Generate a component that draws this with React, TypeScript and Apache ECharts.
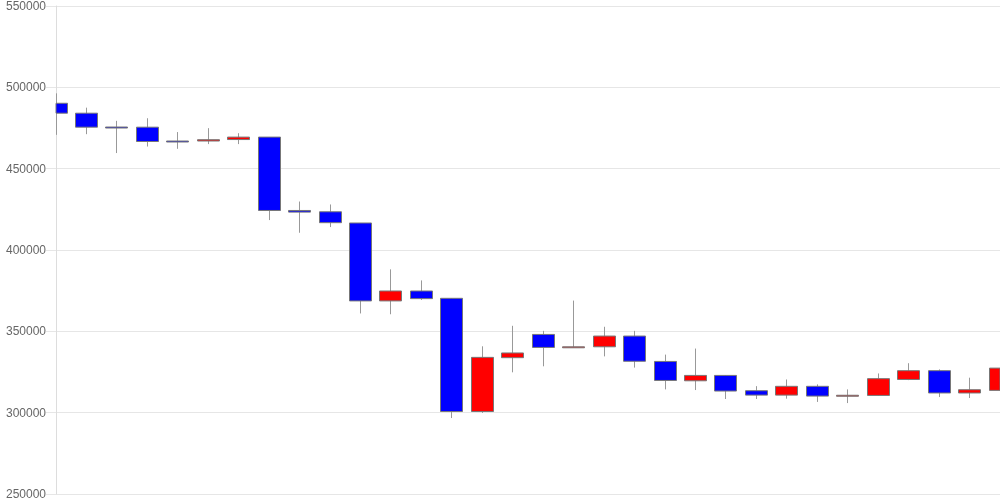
import React, { useEffect, useRef } from "react";
import * as echarts from "echarts";

const categories: string[] = [
  "D01", "D02", "D03", "D04", "D05", "D06", "D07", "D08", "D09", "D10",
  "D11", "D12", "D13", "D14", "D15", "D16", "D17", "D18", "D19", "D20",
  "D21", "D22", "D23", "D24", "D25", "D26", "D27", "D28", "D29", "D30",
  "D31", "D32",
];

const openValues: number[] = [
  490200, 484100, 475600, 475500, 467000, 467000, 467900, 469400, 424300, 423500,
  416600, 368700, 374800, 370300, 300700, 333800, 348100, 340300, 340500, 347100,
  331500, 319600, 322900, 313500, 310800, 316200, 310300, 310600, 320400, 325800,
  312100, 313700,
];
const closeValues: number[] = [
  484100, 475500, 475400, 466700, 466900, 467800, 469400, 424300, 423300, 416800,
  368700, 374800, 370100, 300700, 334000, 336700, 340100, 340500, 347100, 331600,
  319800, 322900, 313300, 310800, 316200, 310200, 310700, 320900, 325800, 312100,
  314100, 327400,
];
const lowValues: number[] = [
  470800, 471200, 459600, 463600, 462200, 465100, 465100, 418400, 410600, 414100,
  361000, 360500, 369300, 296700, 299800, 324800, 328500, 340300, 334600, 327700,
  314300, 313900, 308400, 308400, 308600, 306600, 305900, 310600, 320000, 309600,
  309000, 313700,
];
const highValues: number[] = [
  496300, 487500, 479400, 481000, 472500, 474900, 471800, 469400, 429800, 428000,
  416600, 388100, 381300, 370300, 340800, 353400, 350300, 368900, 352800, 350300,
  335700, 339400, 322900, 316300, 320400, 317400, 314300, 324100, 330400, 326600,
  321500, 329400,
];

const yMin = 250000;
const yMax = 550000;
const yInterval = 50000;

const UP_COLOR = "#ff0000";
const DOWN_COLOR = "#0000ff";
const EDGE_COLOR = "#777777";
const WICK_COLOR = "#999999";
const BODY_WIDTH = 22;

export default function App() {
  const ref = useRef<HTMLDivElement>(null);

  useEffect(() => {
    if (!ref.current) return;
    const chart = echarts.init(ref.current, undefined, { renderer: "svg" });
    const data = categories.map((_, i) => [
      i,
      openValues[i],
      closeValues[i],
      lowValues[i],
      highValues[i],
    ]);
    chart.setOption({
      animation: false,
      grid: { left: 56, right: 0, top: 6, bottom: 6, containLabel: false },
      xAxis: {
        type: "category",
        data: categories,
        boundaryGap: false,
        axisLine: { show: false },
        axisTick: { show: false },
        axisLabel: { show: false },
        splitLine: { show: false },
      },
      yAxis: {
        type: "value",
        min: yMin,
        max: yMax,
        interval: yInterval,
        axisLine: { show: true, lineStyle: { color: "#dddddd", width: 1 } },
        axisTick: { show: true, length: 10, lineStyle: { color: "#e6e6e6" } },
        axisLabel: {
          margin: 10,
          color: "#666666",
          fontSize: 12,
          fontFamily: "Arial, 'Liberation Sans', sans-serif",
          formatter: (v: number) => String(v),
        },
        splitLine: { show: true, lineStyle: { color: "#e6e6e6", width: 1 } },
      },
      series: [
        {
          type: "custom",
          data,
          encode: { x: 0, y: [1, 2, 3, 4] },
          renderItem: (params: any, api: any) => {
            const idx = api.value(0);
            const o = api.value(1);
            const c = api.value(2);
            const lo = api.value(3);
            const hi = api.value(4);
            const pO = api.coord([idx, o]);
            const pC = api.coord([idx, c]);
            const pL = api.coord([idx, lo]);
            const pH = api.coord([idx, hi]);
            const cx = Math.floor(pO[0]) + 0.5;
            const top = Math.min(pO[1], pC[1]);
            const h = Math.max(Math.abs(pO[1] - pC[1]), 1);
            const cs = params.coordSys;
            const body = echarts.graphic.clipRectByRect(
              { x: cx - BODY_WIDTH / 2, y: top, width: BODY_WIDTH, height: h },
              { x: cs.x, y: cs.y, width: cs.width, height: cs.height }
            );
            const up = c >= o;
            const children: any[] = [
              {
                type: "line",
                shape: { x1: cx, y1: pH[1], x2: cx, y2: pL[1] },
                style: { stroke: WICK_COLOR, lineWidth: 1 },
              },
            ];
            if (body) {
              children.push({
                type: "rect",
                shape: body,
                style: {
                  fill: up ? UP_COLOR : DOWN_COLOR,
                  stroke: EDGE_COLOR,
                  lineWidth: 1,
                },
              });
            }
            return { type: "group", children };
          },
        },
      ],
    });
    return () => chart.dispose();
  }, []);

  return (
    <div
      ref={ref}
      style={{ position: "fixed", left: 0, top: 0, width: 1000, height: 500 }}
    />
  );
}
